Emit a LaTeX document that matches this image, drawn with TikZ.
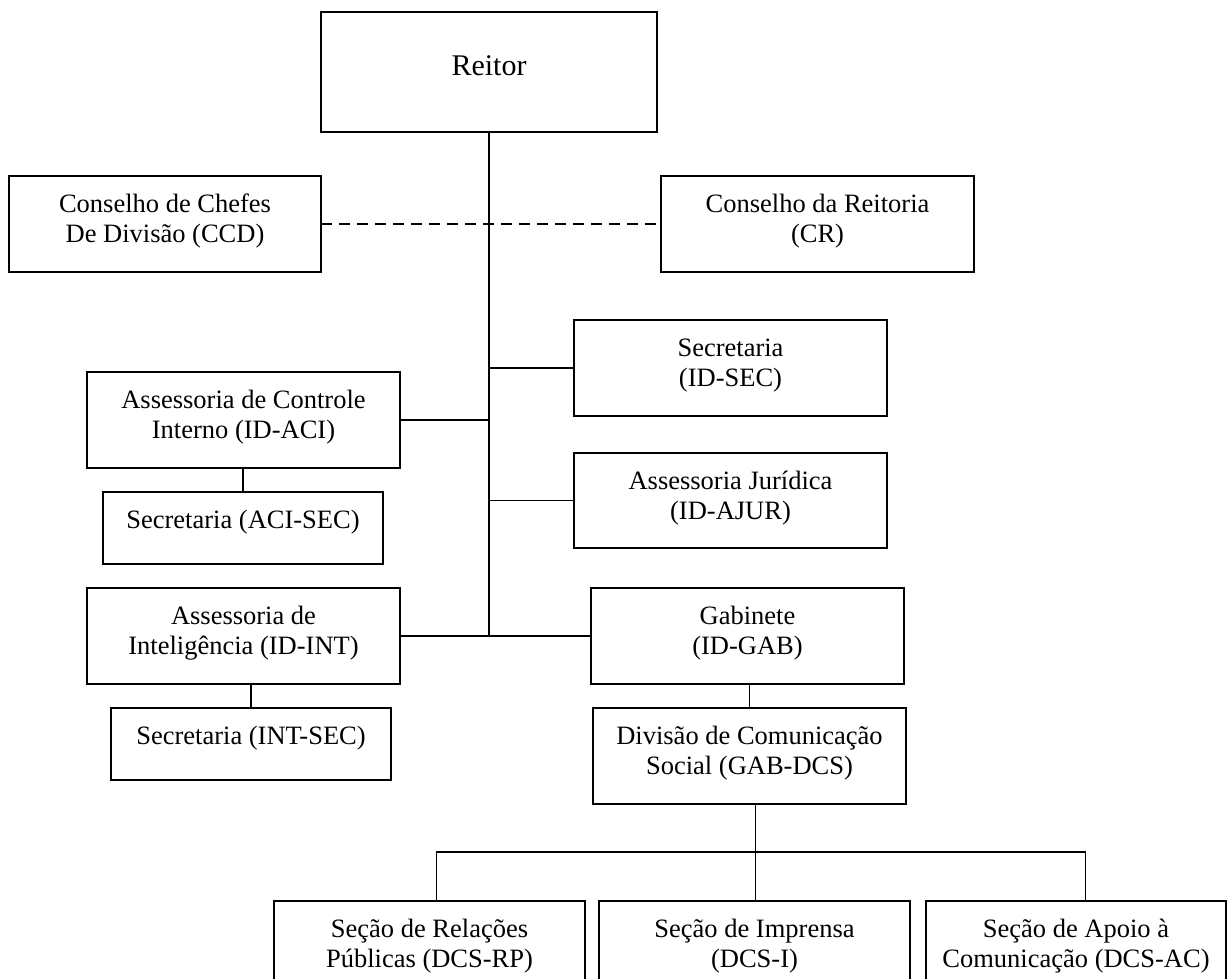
\documentclass[tikz,border=0pt]{standalone}
\usepackage{fontspec}
\setmainfont{Liberation Serif}
\usetikzlibrary{calc}
\newcommand\orgbox[6]{%
  \node[boxst, minimum width={(#4-#2)*1pt}, minimum height={(#5-#3)*1pt}, anchor=north west] (#1) at (#2,#3) {};
  \node[txtst, anchor=north] (#1-t) at ($(#1.north)+(0,14.65)$) {#6};
}
\begin{document}
\begin{tikzpicture}[x=1pt,y=-1pt,
  boxst/.style={draw, line width=2pt, inner sep=0pt, outer sep=0pt},
  txtst/.style={inner sep=0pt, outer sep=0pt, align=center, font=\fontsize{26.5}{30.5}\selectfont},
  ln/.style={line width=1.8pt}]
\useasboundingbox (0,0) rectangle (1231,978);
\clip (0,0) rectangle (1231,978);

% top
\node[boxst, minimum width=336pt, minimum height=120pt, anchor=north west] (reitor) at (321,12) {};
\node[txtst, font=\fontsize{30}{34.5}\selectfont, anchor=north] (reitor-t) at ($(reitor.north)+(0,38.85)$) {\strut Reitor};

\orgbox{ccd}{9}{176}{321}{272}{\strut Conselho de Chefes\\\strut De Divisão (CCD)}
\orgbox{cr}{661}{176}{974}{272}{\strut Conselho da Reitoria\\\strut (CR)}
\orgbox{idsec}{574}{320}{887}{416}{\strut Secretaria\\\strut (ID-SEC)}
\orgbox{aci}{87}{372}{400}{468}{\strut Assessoria de Controle\\\strut Interno (ID-ACI)}
\orgbox{acisec}{103}{492}{383}{564}{\strut Secretaria (ACI-SEC)}
\orgbox{ajur}{574}{453}{887}{548}{\strut Assessoria Jurídica\\\strut (ID-AJUR)}
\orgbox{int}{87}{588}{400}{684}{\strut Assessoria de\\\strut Inteligência (ID-INT)}
\orgbox{intsec}{111}{708}{391}{780}{\strut Secretaria (INT-SEC)}
\orgbox{gab}{591}{588}{904}{684}{\strut Gabinete\\\strut (ID-GAB)}
\orgbox{dcs}{593}{708}{906}{804}{\strut Divisão de Comunicação\\\strut Social (GAB-DCS)}
\orgbox{rp}{274}{901}{585}{1010}{\strut Seção de Relações\\\strut Públicas (DCS-RP)}
\orgbox{imp}{599}{901}{910}{1010}{\strut Seção de Imprensa\\\strut (DCS-I)}
\orgbox{ac}{926}{901}{1226}{1010}{\strut Seção de Apoio à\\\strut Comunicação (DCS-AC)}

% connectors
\coordinate (trunkend) at (reitor.south |- int.east);
\draw[ln] (reitor.south) -- (trunkend);
\draw[ln, dash pattern=on 11pt off 7pt] (ccd.east) -- (cr.west);
\draw[ln] (idsec.west) -- (idsec.west -| reitor.south);
\draw[ln] (aci.east) -- (aci.east -| reitor.south);
\draw[ln] (ajur.west) -- (ajur.west -| reitor.south);
\draw[ln] (int.east) -- (gab.west);
\draw[ln] (acisec.north) -- (acisec.north |- aci.south);
\draw[ln] (intsec.north) -- (intsec.north |- int.south);
\draw[ln] (dcs.north) -- (dcs.north |- gab.south);

\coordinate (bar) at (755.5,852);
\coordinate (b1) at (436.5,852);
\coordinate (b3) at (1085.5,852);
\draw[ln] (dcs.south -| bar) -- (bar |- imp.north);
\draw[ln] (b1 |- rp.north) -- (b1) -- (b3) -- (b3 |- ac.north);
\end{tikzpicture}
\end{document}
